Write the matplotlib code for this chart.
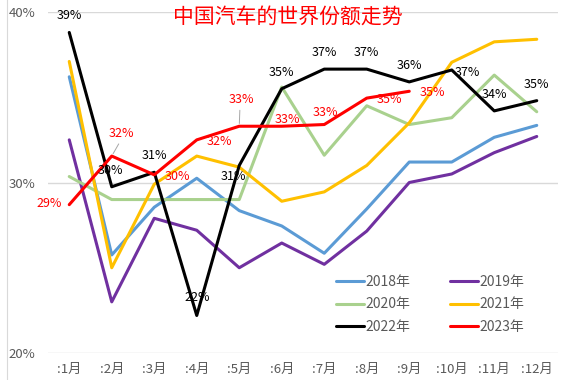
import matplotlib
matplotlib.use("Agg")
import matplotlib.pyplot as plt

plt.rcParams['font.family'] = ['Noto Sans CJK SC', 'DejaVu Sans']

months = [':1月', ':2月', ':3月', ':4月', ':5月', ':6月', ':7月', ':8月', ':9月', ':10月', ':11月', ':12月']
y2018 = [36.2, 25.75, 28.55, 30.25, 28.35, 27.45, 25.85, 28.45, 31.2, 31.2, 32.65, 33.35]
y2019 = [32.5, 23.0, 27.9, 27.2, 25.0, 26.45, 25.2, 27.15, 30.0, 30.5, 31.75, 32.7]
y2020 = [30.35, 29.0, 29.0, 29.0, 29.0, 35.6, 31.6, 34.5, 33.4, 33.8, 36.3, 34.15]
y2021 = [37.1, 25.0, 29.9, 31.55, 30.9, 28.9, 29.45, 31.0, 33.5, 37.05, 38.25, 38.4]
y2022 = [38.8, 29.75, 30.6, 22.2, 31.0, 35.5, 36.65, 36.65, 35.9, 36.6, 34.2, 34.8]
y2023 = [28.7, 31.55, 30.45, 32.5, 33.3, 33.3, 33.4, 34.95, 35.35]
x_pos = list(range(1, 13))

# label text, month index, offset in points (dx, dy)
labels_2022 = [('39%', 0, 0, 12), ('30%', 1, -1, 12), ('31%', 2, 0, 12), ('22%', 3, 0, 13),
               ('31%', 4, -4, -8), ('35%', 5, 0, 11.5), ('37%', 6, 0, 12), ('37%', 7, 0, 12),
               ('36%', 8, 0, 11.5), ('37%', 9, 11, -1.5), ('34%', 10, 0, 12), ('35%', 11, 0, 11.5)]
labels_2023 = [('29%', 0, -14.5, 1), ('32%', 1, 7, 16.5), ('30%', 2, 17, -1.5), ('32%', 3, 16.5, -1),
               ('33%', 4, 1.5, 19.5), ('33%', 5, 4, 5), ('33%', 6, 1, 9), ('35%', 7, 16.5, -1),
               ('35%', 8, 17, -1)]
leaders = [(1, 7, 16.5), (4, 1.5, 19.5)]

fig = plt.figure(figsize=(5.7, 3.8), dpi=100)
ax = fig.add_axes([48 / 570, 1 - 353 / 380, 510 / 570, 341 / 380])

series = [('2018年', y2018, '#5B9BD5'), ('2019年', y2019, '#7030A0'), ('2020年', y2020, '#A9D18E'),
          ('2021年', y2021, '#FFC000'), ('2022年', y2022, '#000000'), ('2023年', y2023, '#FF0000')]
lines = {}
for name, vals, col in series:
    lines[name], = ax.plot(x_pos[:len(vals)], vals, color=col, lw=2.2, label=name,
                           solid_capstyle='round', zorder=3)

for m, dx, dy in leaders:
    ax.annotate('', xy=(x_pos[m], y2023[m]), xytext=(dx - 1, dy - 6), textcoords='offset points',
                arrowprops=dict(arrowstyle='-', color='#A6A6A6', lw=0.7), zorder=2)

for text, m, dx, dy in labels_2022:
    ax.annotate(text, (x_pos[m], y2022[m]), xytext=(dx, dy), textcoords='offset points',
                ha='center', va='center', fontsize=9, color='black', zorder=5)
for text, m, dx, dy in labels_2023:
    ax.annotate(text, (x_pos[m], y2023[m]), xytext=(dx, dy), textcoords='offset points',
                ha='center', va='center', fontsize=9, color='red', zorder=5)

ax.set_xlim(0.5, 12.5)
ax.set_ylim(20, 40)
ax.set_yticks([20, 30, 40])
ax.set_yticklabels(['20%', '30%', '40%'])
ax.set_xticks(x_pos)
ax.set_xticklabels(months)
ax.tick_params(axis='both', length=0, labelsize=9.5, labelcolor='#595959')
ax.tick_params(axis='y', pad=9)
ax.tick_params(axis='x', pad=7)
ax.grid(axis='y', color='#D9D9D9', lw=1)
ax.set_axisbelow(True)
for s in ax.spines.values():
    s.set_visible(False)

order = ['2018年', '2020年', '2022年', '2019年', '2021年', '2023年']
ax.legend([lines[n] for n in order], order, ncol=2, frameon=False, loc='lower left',
          bbox_to_anchor=(288 / 510, 19 / 341), fontsize=10, labelcolor='#595959',
          handlelength=2.0, handletextpad=0.1, columnspacing=2.9, labelspacing=0.62,
          borderaxespad=0, borderpad=0)

fig.text(288 / 570, 1 - 17 / 380, '中国汽车的世界份额走势', color='red', fontsize=15,
         ha='center', va='center')
fig.add_artist(plt.Line2D([7 / 570, 7 / 570], [0, 1], color='#D9D9D9', lw=0.8))

fig.savefig('out.png', dpi=100)
